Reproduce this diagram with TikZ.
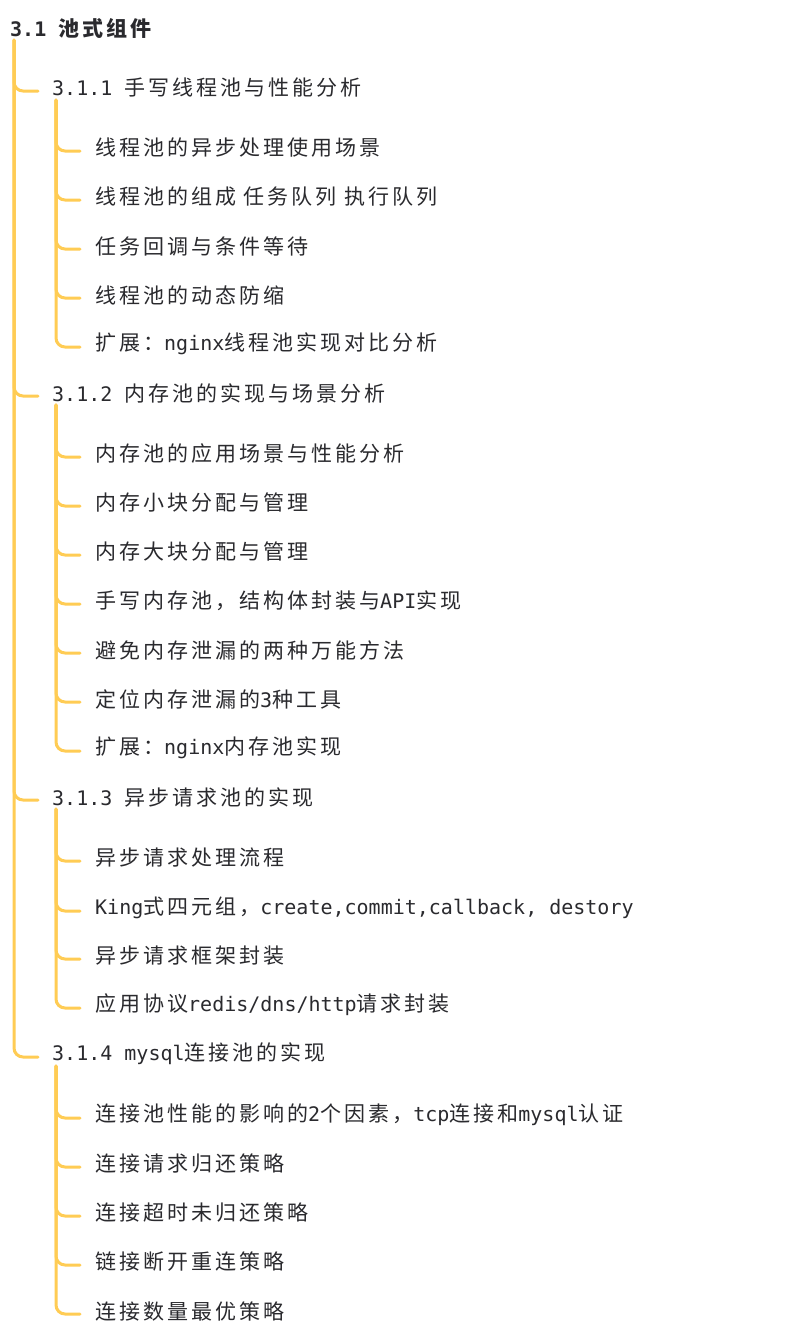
\documentclass[tikz,border=0pt]{standalone}
\usepackage{fontspec}
\setmainfont{DejaVu Sans Mono}
\newfontfamily\zhfont{Noto Sans CJK SC}[LetterSpace=14.3]
\newcommand\zh[1]{{\zhfont\fontsize{21}{24}\selectfont #1}}
\definecolor{linec}{RGB}{255,204,84}
\definecolor{txt}{RGB}{42,42,46}
\tikzset{
  conn/.style={draw=linec, line width=3pt, rounded corners=9pt, line cap=round},
  rootnode/.style={anchor=west, inner sep=0pt, text=txt, font=\fontsize{20}{24}\selectfont\bfseries},
  item/.style={anchor=west, inner sep=0pt, text=txt, font=\fontsize{20}{24}\selectfont},
}
\begin{document}
\begin{tikzpicture}[x=1pt,y=-1pt]
\path[fill=white] (0,0) rectangle (801,1339);
\useasboundingbox (0,0) rectangle (801,1339);

\node[rootnode] (root) at (10,28) {3.1 \zh{池式组件}};
\coordinate (t0) at (14,40);

% level 1
\node[item] (a) at (52,88)   {3.1.1 \zh{手写线程池与性能分析}};
\node[item] (b) at (52,393)  {3.1.2 \zh{内存池的实现与场景分析}};
\node[item] (c) at (52,797)  {3.1.3 \zh{异步请求池的实现}};
\node[item] (d) at (52,1054) {3.1.4 mysql\zh{连接池的实现}};
\coordinate (ta) at (56,100);
\coordinate (tb) at (56,405);
\coordinate (tc) at (56,809);
\coordinate (td) at (56,1066);

% level 2 under a
\node[item] (a1) at (95,148) {\zh{线程池的异步处理使用场景}};
\node[item] (a2) at (95,197) {\zh{线程池的组成 任务队列 执行队列}};
\node[item] (a3) at (95,246) {\zh{任务回调与条件等待}};
\node[item] (a4) at (95,295) {\zh{线程池的动态防缩}};
\node[item] (a5) at (95,344) {\zh{扩展：}nginx\zh{线程池实现对比分析}};

% level 2 under b
\node[item] (b1) at (95,454) {\zh{内存池的应用场景与性能分析}};
\node[item] (b2) at (95,503) {\zh{内存小块分配与管理}};
\node[item] (b3) at (95,552) {\zh{内存大块分配与管理}};
\node[item] (b4) at (95,601) {\zh{手写内存池，结构体封装与}API\zh{实现}};
\node[item] (b5) at (95,650) {\zh{避免内存泄漏的两种万能方法}};
\node[item] (b6) at (95,699) {\zh{定位内存泄漏的}3\zh{种工具}};
\node[item] (b7) at (95,748) {\zh{扩展：}nginx\zh{内存池实现}};

% level 2 under c
\node[item] (c1) at (95,858)  {\zh{异步请求处理流程}};
\node[item] (c2) at (95,908)  {King\zh{式四元组，}create,commit,callback, destory};
\node[item] (c3) at (95,956)  {\zh{异步请求框架封装}};
\node[item] (c4) at (95,1005) {\zh{应用协议}redis/dns/http\zh{请求封装}};

% level 2 under d
\node[item] (d1) at (95,1115) {\zh{连接池性能的影响的}2\zh{个因素，}tcp\zh{连接和}mysql\zh{认证}};
\node[item] (d2) at (95,1164) {\zh{连接请求归还策略}};
\node[item] (d3) at (95,1213) {\zh{连接超时未归还策略}};
\node[item] (d4) at (95,1262) {\zh{链接断开重连策略}};
\node[item] (d5) at (95,1311) {\zh{连接数量最优策略}};

% connectors
\foreach \n in {a,b,c,d}
  \draw[conn] (t0) |- ([xshift=-14pt,yshift=-3pt]\n.west);
\foreach \n in {a1,a2,a3,a4,a5}
  \draw[conn] (ta) |- ([xshift=-15pt,yshift=-3pt]\n.west);
\foreach \n in {b1,b2,b3,b4,b5,b6,b7}
  \draw[conn] (tb) |- ([xshift=-15pt,yshift=-3pt]\n.west);
\foreach \n in {c1,c2,c3,c4}
  \draw[conn] (tc) |- ([xshift=-15pt,yshift=-3pt]\n.west);
\foreach \n in {d1,d2,d3,d4,d5}
  \draw[conn] (td) |- ([xshift=-15pt,yshift=-3pt]\n.west);
\end{tikzpicture}
\end{document}
